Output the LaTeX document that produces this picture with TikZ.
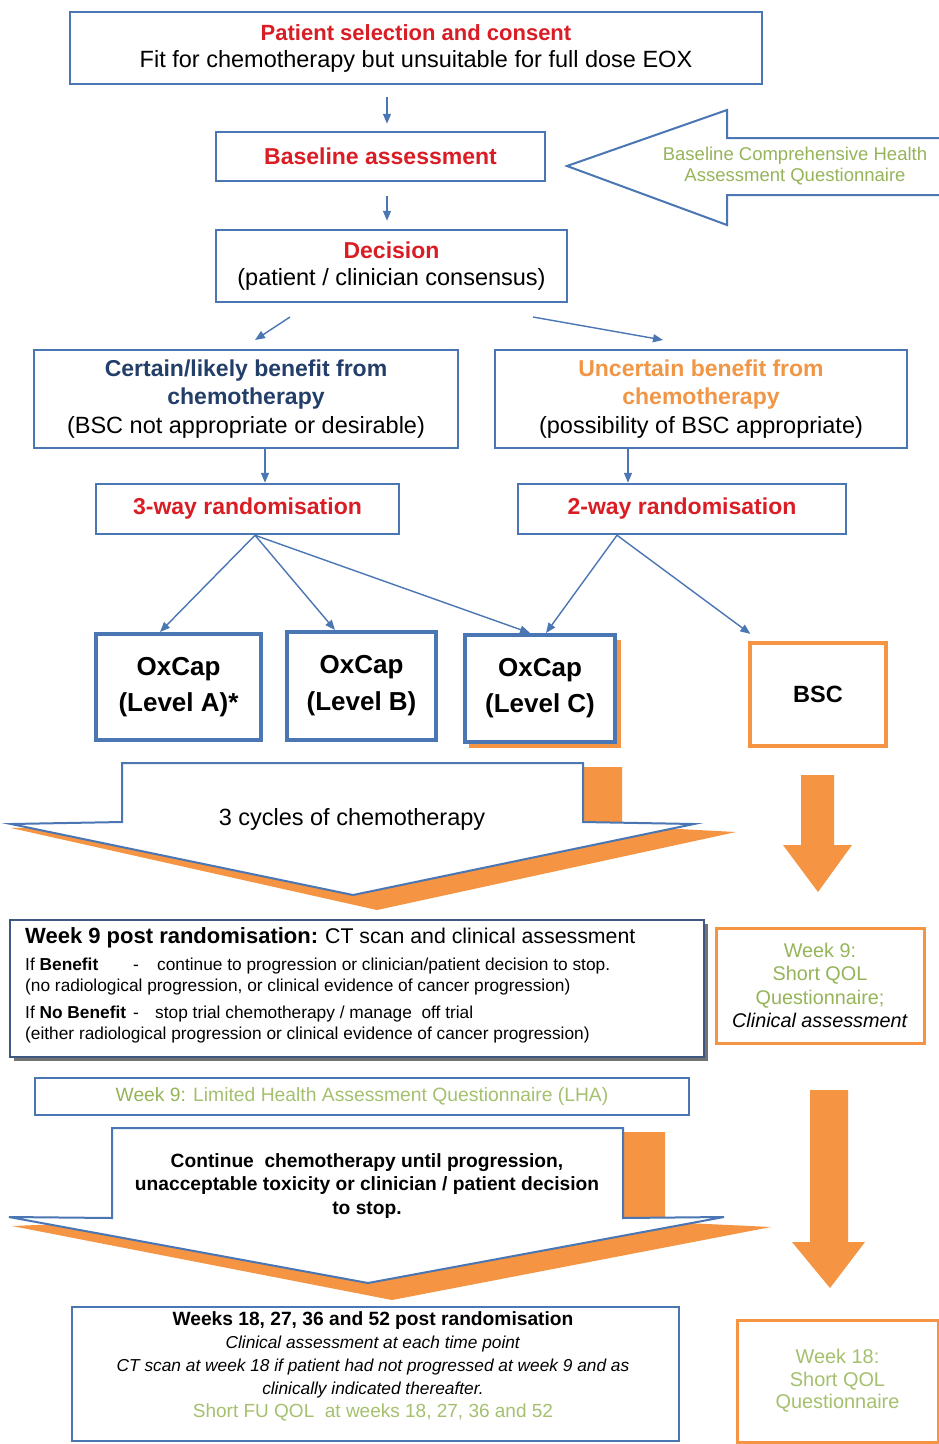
\documentclass[tikz,border=0pt]{standalone}
\usepackage{fontspec}
\setmainfont{Liberation Sans}
\usetikzlibrary{arrows.meta}
\definecolor{bbox}{RGB}{74,118,180}
\definecolor{bdark}{RGB}{62,88,130}
\definecolor{tred}{RGB}{218,28,36}
\definecolor{tdblue}{RGB}{35,62,105}
\definecolor{torange}{RGB}{240,150,70}
\definecolor{borange}{RGB}{245,148,66}
\definecolor{tgreen}{RGB}{150,180,90}
\definecolor{tlgreen}{RGB}{165,192,110}
\newcommand\fz[2]{\fontsize{#1}{#2}\selectfont}
\newcommand\lcert[1]{\textcolor{tdblue}{\bfseries\fz{23}{28.5}#1}}
\newcommand\lunc[1]{\textcolor{torange}{\bfseries\fz{23}{28.5}#1}}
\newcommand\lgr[1]{\textcolor{tgreen}{#1}}
\tikzset{
  bluebox/.style={draw=bbox, line width=2.5pt, fill=white, inner sep=0pt, align=center},
  thickbox/.style={bluebox, line width=4pt},
  orgbox/.style={draw=borange, line width=4pt, fill=white, inner sep=0pt, align=center},
  conn/.style={draw=bbox, line width=1.4pt, -{Triangle[length=10pt,width=8pt]}},
  bigarrow/.style={draw=bbox, line width=2pt, fill=white, line join=miter},
  txt/.style={inner sep=0pt},
}
\begin{document}
\begin{tikzpicture}[x=1pt,y=-1pt]
\useasboundingbox[fill=white] (0,0) rectangle (938,1444);

% ---------- top ----------
\node[bluebox, minimum width=692pt, minimum height=72pt, font=\fz{23.5}{27}] (sel) at (416,48)
  {\textcolor{tred}{\bfseries\fz{22}{27}Patient selection and consent}\\Fit for chemotherapy but unsuitable for full dose EOX};
\node[bluebox, minimum width=329pt, minimum height=49pt, font=\bfseries\fz{23}{24}, text=tred] (base) at (380.5,156.5) {Baseline assessment};
\draw[bigarrow] (940,138) -- (727,138) -- (727,110) -- (567,166) -- (727,225) -- (727,195) -- (940,195);
\node[txt, font=\fz{18.5}{21}, text=tgreen, align=center] (bq) at (795,166) {Baseline Comprehensive Health\\Assessment Questionnaire};
\node[bluebox, minimum width=351pt, minimum height=72pt, font=\fz{23.5}{27}] (dec) at (391.5,266)
  {\textcolor{tred}{\bfseries\fz{23}{27}Decision}\\(patient / clinician consensus)};

\draw[conn, shorten <=12pt, shorten >=7pt] ([xshift=-29pt]sel.south) -- ([xshift=6.5pt]base.north);
\draw[conn, shorten <=14pt, shorten >=8pt] ([xshift=6.5pt]base.south) -- ([xshift=-4.5pt]dec.north);

% ---------- branches ----------
\node[bluebox, minimum width=424pt, minimum height=98pt, font=\fz{23.5}{28.5}] (cert) at (246,399)
  {\lcert{Certain/likely benefit from}\\\lcert{chemotherapy}\\(BSC not appropriate or desirable)};
\node[bluebox, minimum width=412pt, minimum height=98pt, font=\fz{23.5}{28.5}] (unc) at (701,399)
  {\lunc{Uncertain benefit from}\\\lunc{chemotherapy}\\(possibility of BSC appropriate)};
\coordinate (dl1) at (290,317); \coordinate (dl2) at (255,340);
\coordinate (dr1) at (533,317); \coordinate (dr2) at (663,340);
\draw[conn] (dl1) -- (dl2);
\draw[conn] (dr1) -- (dr2);

\node[bluebox, minimum width=303pt, minimum height=50pt, font=\bfseries\fz{23}{24}, text=tred] (r3) at (247.5,509) {3-way randomisation};
\node[bluebox, minimum width=328pt, minimum height=50pt, font=\bfseries\fz{23}{24}, text=tred] (r2) at (682,509) {2-way randomisation};
\draw[conn] ([xshift=19pt]cert.south) -- ([xshift=17.5pt]r3.north);
\draw[conn] ([xshift=-73pt]unc.south) -- ([xshift=-54pt]r2.north);

% ---------- arms ----------
\fill[borange] (469,640) rectangle (621,748);
\node[thickbox, minimum width=165pt, minimum height=106pt, font=\bfseries\fz{26}{36}] (oxa) at (178.5,687) {OxCap\\(Level A)*};
\node[thickbox, minimum width=149pt, minimum height=108pt, font=\bfseries\fz{26}{37}] (oxb) at (361.5,686) {OxCap\\(Level B)};
\node[thickbox, minimum width=150pt, minimum height=107pt, font=\bfseries\fz{26}{36}] (oxc) at (540,688.5) {OxCap\\(Level C)};
\node[orgbox, minimum width=136pt, minimum height=103pt, font=\bfseries\fz{23.5}{26}] (bsc) at (818,694.5) {BSC};

\draw[conn] ([xshift=7.5pt]r3.south) -- ([xshift=-18.5pt]oxa.north);
\draw[conn] ([xshift=7.5pt]r3.south) -- ([xshift=-26.5pt]oxb.north);
\draw[conn] ([xshift=7.5pt]r3.south) -- ([xshift=-10pt]oxc.north);
\draw[conn] ([xshift=-65pt]r2.south) -- ([xshift=6pt]oxc.north);
\draw[conn, shorten >=12pt] ([xshift=-65pt]r2.south) -- ([xshift=-58pt]bsc.north);

% ---------- 3 cycles arrow ----------
\fill[borange] (122,767) -- (622,767) -- (622,826) -- (736,832) -- (377,910) -- (11,828) -- (122,826) -- cycle;
\draw[bigarrow] (122,763) -- (583,763) -- (583,822) -- (694,824) -- (353,895) -- (11,824) -- (122,822) -- cycle;
\node[txt, font=\fz{23.5}{26}] (cyc) at (352,819) {3 cycles of chemotherapy};

\fill[borange] (801,775) -- (834,775) -- (834,845) -- (852,845) -- (818,892) -- (783,845) -- (801,845) -- cycle;

% ---------- week 9 ----------
\fill[black!55] (14,924) rectangle (708,1061);
\node[bluebox, draw=bdark, minimum width=694pt, minimum height=137pt] (wk9) at (357,988.5) {};
\node[txt, anchor=base west, font=\fz{21.3}{23}] (w9a) at (25,943) {{\bfseries\fz{22}{23}Week 9 post randomisation:}\hspace{7pt}CT scan and clinical assessment};
\node[txt, anchor=base west, font=\fz{17.3}{19}] (w9b) at (25,970) {\makebox[108pt][l]{If \textbf{Benefit}}\makebox[24pt][l]{-}continue to progression or clinician/patient decision to stop.};
\node[txt, anchor=base west, font=\fz{17.3}{19}] (w9c) at (25,991) {(no radiological progression, or clinical evidence of cancer progression)};
\node[txt, anchor=base west, font=\fz{17.3}{19}] (w9d) at (25,1018) {\makebox[108pt][l]{If \textbf{No Benefit}}\makebox[22pt][l]{-}stop trial chemotherapy / manage\ \ off trial};
\node[txt, anchor=base west, font=\fz{17.3}{19}] (w9e) at (25,1039) {(either radiological progression or clinical evidence of cancer progression)};

\node[orgbox, line width=3pt, minimum width=208pt, minimum height=115pt, font=\fz{19.8}{23.3}] (w9r) at (820,985.5)
  {\lgr{Week 9:}\\\lgr{Short QOL}\\\lgr{Questionnaire;}\\\textit{Clinical assessment}};

\node[bluebox, minimum width=654pt, minimum height=37pt, font=\fz{19.3}{20}] (lha) at (362,1096.5)
  {\textcolor{tgreen}{Week 9:} \textcolor{tlgreen}{Limited Health Assessment Questionnaire (LHA)}};

% ---------- continue arrow ----------
\fill[borange] (112,1132) -- (665,1132) -- (665,1222) -- (771,1227) -- (392,1300) -- (12,1226) -- (112,1222) -- cycle;
\draw[bigarrow] (112,1128) -- (623,1128) -- (623,1218) -- (724,1217) -- (368,1283) -- (9,1217) -- (112,1218) -- cycle;
\node[txt, font=\bfseries\fz{19.2}{23.5}, align=center] (cont) at (367,1186)
  {Continue\ \ chemotherapy until progression,\\unacceptable toxicity or clinician / patient decision\\to stop.};

\fill[borange] (810,1090) -- (848,1090) -- (848,1242) -- (865,1242) -- (830,1288) -- (792,1242) -- (810,1242) -- cycle;

% ---------- follow-up ----------
\node[bluebox, minimum width=607pt, minimum height=134pt] (fu) at (375.5,1374) {};
\node[txt, font=\fz{17.3}{23}, align=center] (fut) at (373,1366)
  {{\bfseries\fz{19.2}{23}Weeks 18, 27, 36 and 52 post randomisation}\\
   \textit{Clinical assessment at each time point}\\
   \textit{CT scan at week 18 if patient had not progressed at week 9 and as}\\
   \textit{clinically indicated thereafter.}\\
   \textcolor{tlgreen}{\fz{19}{23}Short FU QOL\ \ at weeks 18, 27, 36 and 52}};

\node[orgbox, line width=3pt, minimum width=201pt, minimum height=122pt, font=\fz{19.9}{22.5}, text=tlgreen] (w18) at (837.5,1381)
  {Week 18:\\Short QOL\\Questionnaire};
\end{tikzpicture}
\end{document}
